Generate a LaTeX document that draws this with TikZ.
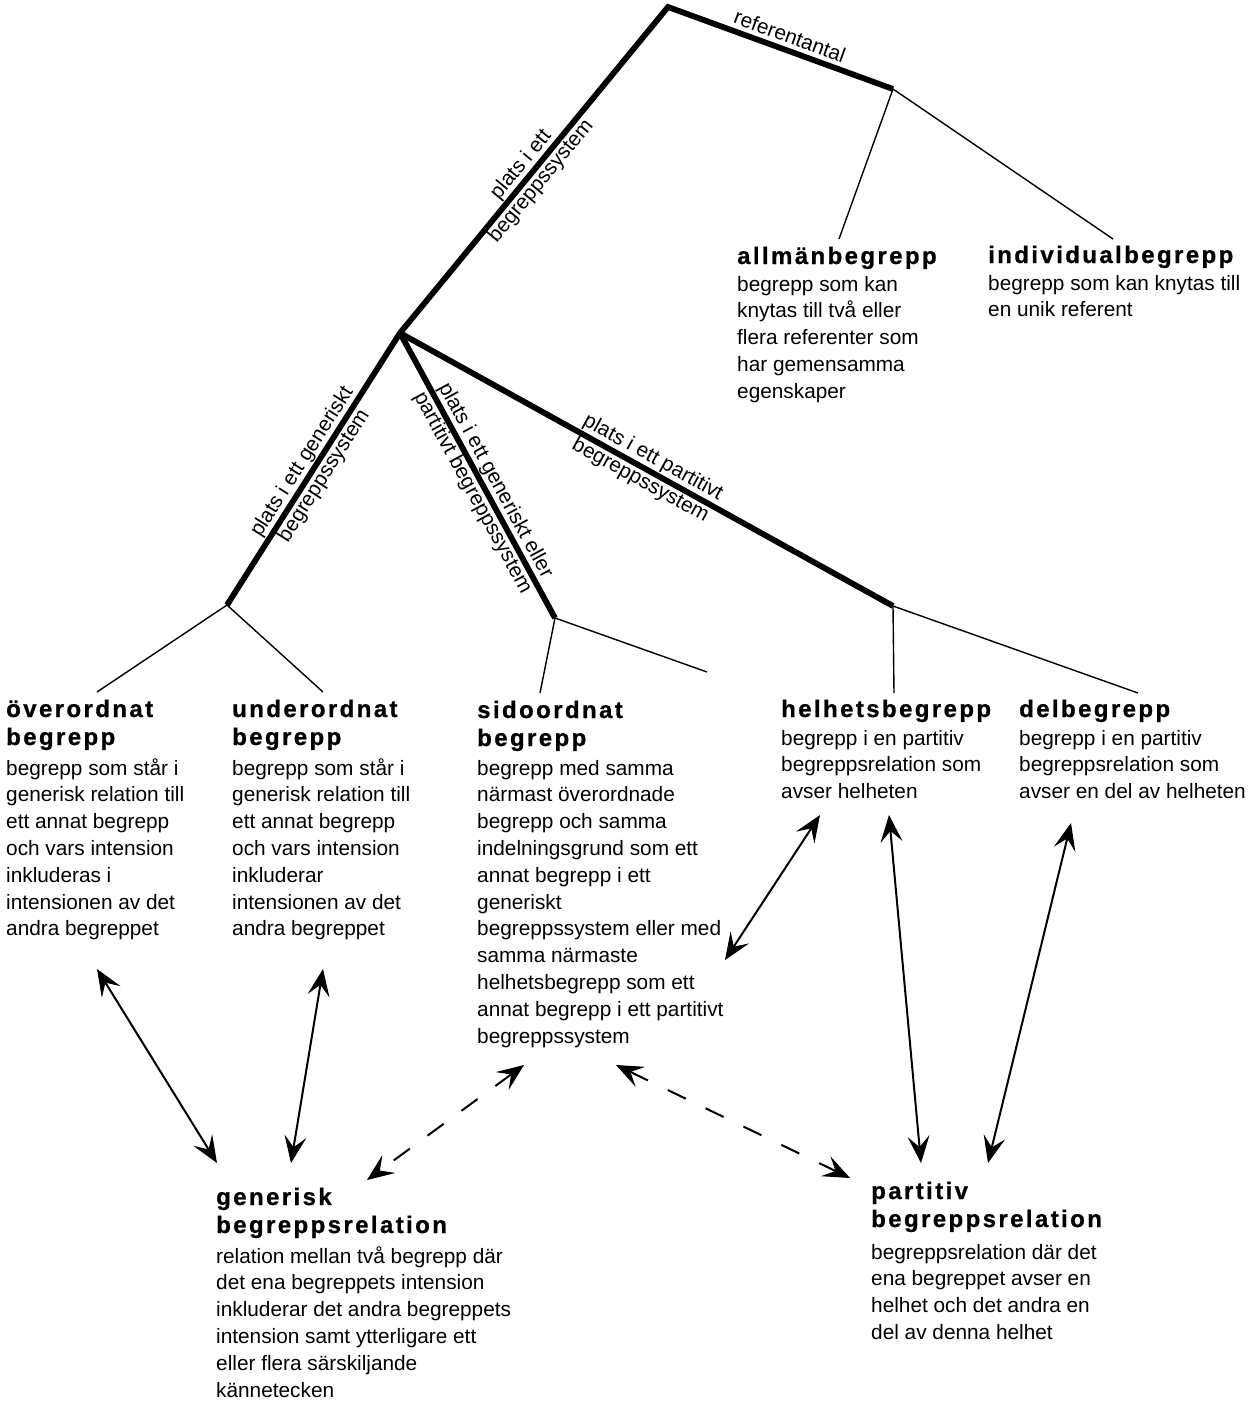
\documentclass[tikz,border=0pt]{standalone}
\usepackage{fontspec}
\setmainfont{Liberation Sans}
\newfontfamily\titlefont{Liberation Sans Bold}[LetterSpace=10, FakeBold=0.8]
\usetikzlibrary{arrows.meta}
\newcommand\mylines[1]{\begin{tabular}[t]{@{}l@{}}#1\end{tabular}}
\newcommand\mycenter[1]{\begin{tabular}{@{}c@{}}#1\end{tabular}}
\tikzset{
  thickline/.style={line width=5.8pt, line join=miter},
  thinline/.style={line width=1.4pt},
  arr/.style={line width=2pt, {Stealth[length=27pt,width=22pt,inset=11pt,line width=1pt]}-{Stealth[length=27pt,width=22pt,inset=11pt,line width=1pt]}},
  darr/.style={arr, dash pattern=on 20pt off 22pt},
  ttl/.style={anchor=base west, inner sep=0pt, font=\titlefont\fontsize{24}{28}\selectfont},
  bdy/.style={anchor=base west, inner sep=0pt, font=\fontsize{20.8}{26.8}\selectfont},
  lbl/.style={font=\fontsize{20.8}{26}\selectfont, inner sep=0pt, sloped},
}
\begin{document}
\begin{tikzpicture}[x=1pt,y=-1pt]
\useasboundingbox (0,0) rectangle (1255,1409);
% tree points
\coordinate (A) at (668,7);
\coordinate (B) at (893,89);
\coordinate (C) at (400,333);
\coordinate (D) at (227,605);
\coordinate (E) at (555,618);
\coordinate (F) at (893,606);
% thin line ends
\coordinate (b1) at (839,239);
\coordinate (b2) at (1113,239);
\coordinate (d1) at (97,692);
\coordinate (d2) at (323,692);
\coordinate (e1) at (540,693);
\coordinate (e2) at (707,672);
\coordinate (f1) at (894,693);
\coordinate (f2) at (1138,693);
% arrow ends
\coordinate (p1a) at (97,969);   \coordinate (p1b) at (217,1163);
\coordinate (p2a) at (323,969);  \coordinate (p2b) at (291,1163);
\coordinate (p3a) at (524,1065); \coordinate (p3b) at (367,1180);
\coordinate (p4a) at (616,1065); \coordinate (p4b) at (850,1178);
\coordinate (p5a) at (820,815);  \coordinate (p5b) at (725,960);
\coordinate (p6a) at (889,815);  \coordinate (p6b) at (921,1163);
\coordinate (p7a) at (1071,823); \coordinate (p7b) at (988,1163);

% thick tree
\draw[thickline] (C) -- node[lbl, pos=0.49] {\mycenter{plats i ett\\begreppssystem}} (A)
  -- node[lbl, above=4pt, pos=0.52] {referentantal} (B);
\draw[thickline] (D) -- node[lbl, pos=0.50] {\mycenter{plats i ett generiskt\\begreppssystem}} (C);
\draw[thickline] (C) -- node[lbl, pos=0.54] {\mycenter{plats i ett generiskt eller\\partitivt begreppssystem}} (E);
\draw[thickline] (C) -- node[lbl, pos=0.50] {\mycenter{plats i ett partitivt\\begreppssystem}} (F);

% thin branches
\draw[thinline] (B) -- (b1);
\draw[thinline] (B) -- (b2);
\draw[thinline] (D) -- (d1);
\draw[thinline] (D) -- (d2);
\draw[thinline] (E) -- (e1);
\draw[thinline] (E) -- (e2);
\draw[thinline] (F) -- (f1);
\draw[thinline] (F) -- (f2);

% concept texts
\node[ttl] (allmanT) at (737,264) {allmänbegrepp};
\node[bdy] (allmanB) at (737,291) {\mylines{begrepp som kan\\knytas till två eller\\flera referenter som\\har gemensamma\\egenskaper}};

\node[ttl] (indT) at (988,263) {individualbegrepp};
\node[bdy] (indB) at (988,290) {\mylines{begrepp som kan knytas till\\en unik referent}};

\node[ttl] (overT) at (6,717) {\mylines{överordnat\\begrepp}};
\node[bdy] (overB) at (6,775) {\mylines{begrepp som står i\\generisk relation till\\ett annat begrepp\\och vars intension\\inkluderas i\\intensionen av det\\andra begreppet}};

\node[ttl] (underT) at (232,717) {\mylines{underordnat\\begrepp}};
\node[bdy] (underB) at (232,775) {\mylines{begrepp som står i\\generisk relation till\\ett annat begrepp\\och vars intension\\inkluderar\\intensionen av det\\andra begreppet}};

\node[ttl] (sidoT) at (477,718) {\mylines{sidoordnat\\begrepp}};
\node[bdy] (sidoB) at (477,775) {\mylines{begrepp med samma\\närmast överordnade\\begrepp och samma\\indelningsgrund som ett\\annat begrepp i ett\\generiskt\\begreppssystem eller med\\samma närmaste\\helhetsbegrepp som ett\\annat begrepp i ett partitivt\\begreppssystem}};

\node[ttl] (helT) at (781,717) {helhetsbegrepp};
\node[bdy] (helB) at (781,745) {\mylines{begrepp i en partitiv\\begreppsrelation som\\avser helheten}};

\node[ttl] (delT) at (1019,717) {delbegrepp};
\node[bdy] (delB) at (1019,745) {\mylines{begrepp i en partitiv\\begreppsrelation som\\avser en del av helheten}};

\node[ttl] (genT) at (216,1205) {\mylines{generisk\\begreppsrelation}};
\node[bdy] (genB) at (216,1263) {\mylines{relation mellan två begrepp där\\det ena begreppets intension\\inkluderar det andra begreppets\\intension samt ytterligare ett\\eller flera särskiljande\\kännetecken}};

\node[ttl] (partT) at (871,1199) {\mylines{partitiv\\begreppsrelation}};
\node[bdy] (partB) at (871,1259) {\mylines{begreppsrelation där det\\ena begreppet avser en\\helhet och det andra en\\del av denna helhet}};

% relation arrows
\draw[arr] (p1a) -- (p1b);
\draw[arr] (p2a) -- (p2b);
\draw[darr] (p3a) -- (p3b);
\draw[darr] (p4a) -- (p4b);
\draw[arr] (p5a) -- (p5b);
\draw[arr] (p6a) -- (p6b);
\draw[arr] (p7a) -- (p7b);
\end{tikzpicture}
\end{document}
